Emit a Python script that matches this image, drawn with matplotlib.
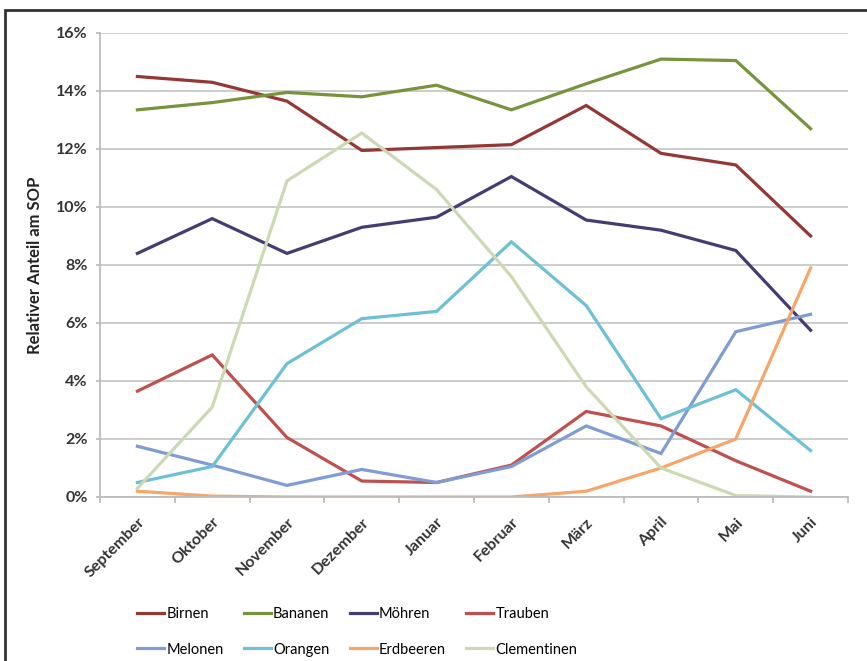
import matplotlib.pyplot as plt
from matplotlib.patches import Rectangle
from matplotlib.ticker import FuncFormatter, FixedLocator

plt.rcParams['font.family'] = ['Lato', 'DejaVu Sans']

monate = ["September", "Oktober", "November", "Dezember", "Januar",
          "Februar", "März", "April", "Mai", "Juni"]

birnen = [14.5, 14.3, 13.65, 11.95, 12.05, 12.15, 13.5, 11.85, 11.45, 9.0]
bananen = [13.35, 13.6, 13.95, 13.8, 14.2, 13.35, 14.25, 15.1, 15.05, 12.7]
moehren = [8.4, 9.6, 8.4, 9.3, 9.65, 11.05, 9.55, 9.2, 8.5, 5.75]
trauben = [3.65, 4.9, 2.05, 0.55, 0.5, 1.1, 2.95, 2.45, 1.25, 0.2]
melonen = [1.75, 1.1, 0.4, 0.95, 0.5, 1.05, 2.45, 1.5, 5.7, 6.3]
orangen = [0.5, 1.05, 4.6, 6.15, 6.4, 8.8, 6.6, 2.7, 3.7, 1.6]
erdbeeren = [0.2, 0.03, 0.0, 0.0, 0.0, 0.0, 0.2, 1.0, 2.0, 7.9]
clementinen = [0.3, 3.1, 10.9, 12.55, 10.6, 7.6, 3.8, 1.0, 0.05, 0.0]

reihen = [
    ("Birnen", birnen, "#953735"),
    ("Bananen", bananen, "#77933C"),
    ("Möhren", moehren, "#463C72"),
    ("Trauben", trauben, "#C0504D"),
    ("Melonen", melonen, "#7F9CD4"),
    ("Orangen", orangen, "#6EC0D6"),
    ("Erdbeeren", erdbeeren, "#F7A66A"),
    ("Clementinen", clementinen, "#CDD9B3"),
]

fig = plt.figure(figsize=(8.67, 6.61), dpi=100)
# aeusserer Rahmen
fig.patches.append(Rectangle((5 / 867, -0.01), 1.0, 1 - 10 / 661 + 0.01,
                             transform=fig.transFigure, fill=False,
                             edgecolor="#333333", linewidth=2))

ax = fig.add_axes([100 / 867, 1 - 497 / 661, 748 / 867, 464 / 661])
x = list(range(len(monate)))
linien = {}
for name, werte, farbe in reihen:
    linien[name], = ax.plot(x, werte, color=farbe, lw=2.3, label=name,
                            solid_joinstyle="miter")

ax.set_xlim(-0.5, len(monate) - 0.5)
ax.set_ylim(0, 16)
ax.set_yticks(range(0, 17, 2))
ax.yaxis.set_major_formatter(FuncFormatter(lambda v, p: f"{v:.0f}%"))
ax.grid(axis="y", color="#C8C8C8", lw=1.3)
ax.set_axisbelow(True)
for s in ["top", "right"]:
    ax.spines[s].set_visible(False)
for s in ["left", "bottom"]:
    ax.spines[s].set_color("#BDBDBD")
    ax.spines[s].set_linewidth(1.3)

ax.set_xticks(x)
ax.set_xticklabels(monate, rotation=45, ha="right", rotation_mode="anchor",
                   fontsize=11.5, fontweight="bold", color="#333333")
ax.tick_params(axis="x", length=0, pad=13)
ax.xaxis.set_minor_locator(FixedLocator([i + 0.5 for i in range(-1, len(monate))]))
ax.tick_params(axis="x", which="minor", length=4, color="#BDBDBD", width=1.3)
ax.tick_params(axis="y", length=3, color="#BDBDBD", width=1.3,
               labelsize=11.5, labelcolor="#333333", pad=6)
for t in ax.get_yticklabels():
    t.set_fontweight("bold")
ax.set_ylabel("Relativer Anteil am SOP", fontsize=12, fontweight="bold",
              color="#222222")
ax.yaxis.set_label_coords(-0.076, 0.5)

ordnung = ["Birnen", "Melonen", "Bananen", "Orangen",
           "Möhren", "Erdbeeren", "Trauben", "Clementinen"]
fig.legend([linien[n] for n in ordnung], ordnung, ncol=4, frameon=False,
           loc="center left", bbox_to_anchor=(137 / 867, 1 - 632 / 661),
           fontsize=10.5, handlelength=1.85, handletextpad=0.15,
           columnspacing=1.4, labelspacing=1.45, borderaxespad=0,
           borderpad=0)

fig.savefig("out.png", dpi=100)
